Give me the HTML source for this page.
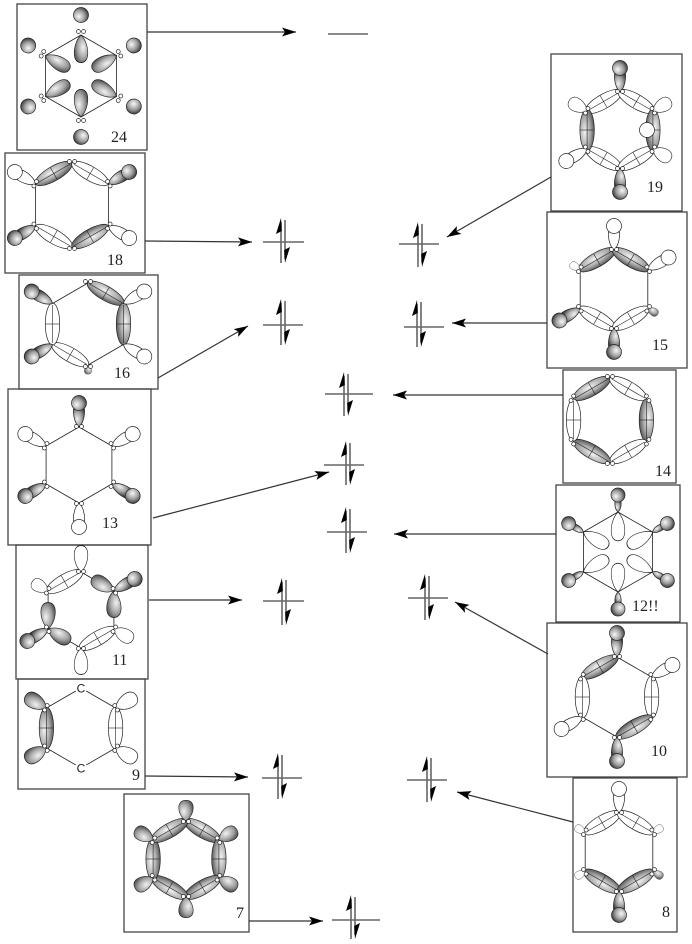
<!DOCTYPE html>
<html><head><meta charset="utf-8">
<style>
html,body{margin:0;padding:0;background:#fff;}
svg{display:block;}
</style></head>
<body>
<svg width="692" height="944" viewBox="0 0 692 944" xmlns="http://www.w3.org/2000/svg">
<style>
.g{fill:url(#gg);stroke:#222;stroke-width:.7}
.w{fill:#fff;stroke:#222;stroke-width:.7}
.s{fill:url(#sg);stroke:#222;stroke-width:.7}
.t{stroke:#222;stroke-width:.6;fill:none}
.hx{fill:none;stroke:#222;stroke-width:.8}
.bx{fill:none;stroke:#444;stroke-width:1.3}
.c{stroke:#333;stroke-width:1.2;fill:none;marker-end:url(#ah)}
.lv{stroke:#666;stroke-width:1.6}
.lbl{font-family:"Liberation Serif",serif;font-size:16px;fill:#222}
.cl{font-family:"Liberation Sans",sans-serif;font-size:12px;fill:#222}
</style>
<defs>
<radialGradient id="gg" cx="0.45" cy="0.35" r="0.75">
<stop offset="0" stop-color="#f2f2f2"/><stop offset="0.5" stop-color="#a8a8a8"/><stop offset="1" stop-color="#3c3c3c"/>
</radialGradient>
<radialGradient id="sg" cx="0.4" cy="0.35" r="0.7">
<stop offset="0" stop-color="#f8f8f8"/><stop offset="0.55" stop-color="#a0a0a0"/><stop offset="1" stop-color="#333"/>
</radialGradient>
<marker id="ah" viewBox="-15 -5 16 10" refX="0" refY="0" markerWidth="16" markerHeight="10" markerUnits="userSpaceOnUse" orient="auto">
<path d="M0,0 L-14,-4.5 L-11,0 L-14,4.5 Z" fill="#000"/>
</marker>
<path id="lob" d="M0,0 C3,-4.5 9,-8 15,-8 C21,-8 23,-4 23,0 C23,4 21,8 15,8 C9,8 3,4.5 0,0Z"/>
<g id="hg"><path d="M0,0 C3,-3.5 10,-6 18,-5.5 L18,5.5 C10,6 3,3.5 0,0Z" class="g"/><circle cx="24" cy="0" r="7.5" class="s"/></g>
<g id="hw"><path d="M0,0 C3,-3.5 10,-6 18,-5.5 L18,5.5 C10,6 3,3.5 0,0Z" class="w"/><circle cx="24" cy="0" r="7.5" class="w"/></g>
<g id="eg"><ellipse cx="0" cy="0" rx="21" ry="7.2" class="g"/><line x1="-19" y1="0" x2="19" y2="0" class="t"/><line x1="0" y1="-6.8" x2="0" y2="6.8" class="t"/></g>
<g id="ew"><ellipse cx="0" cy="0" rx="21" ry="7.2" class="w"/><line x1="-19" y1="0" x2="19" y2="0" class="t"/><line x1="0" y1="-6.8" x2="0" y2="6.8" class="t"/></g>
<g id="at"><circle cx="1.5" cy="-2.6" r="2" class="w"/><circle cx="1.5" cy="2.6" r="2" class="w"/></g>
<g id="ns"><path d="M0,0 C2,-2.5 6,-3.5 11,-3 L11,3 C6,3.5 2,2.5 0,0Z" class="g"/><circle cx="17" cy="0" r="7" class="s"/></g>
<circle id="sph" cx="0" cy="0" r="7.5" class="s"/>
</defs>

<!-- ============ BOXES ============ -->
<rect class="bx" x="17" y="4" width="130" height="146"/>
<rect class="bx" x="5" y="153" width="140" height="120"/>
<rect class="bx" x="19" y="275" width="139" height="114"/>
<rect class="bx" x="8" y="389" width="143" height="156"/>
<rect class="bx" x="16" y="545" width="132" height="134"/>
<rect class="bx" x="18" y="679" width="127" height="110"/>
<rect class="bx" x="124" y="794" width="125" height="138"/>
<rect class="bx" x="551" y="54" width="131" height="157"/>
<rect class="bx" x="547" y="212" width="140" height="156"/>
<rect class="bx" x="563" y="370" width="113" height="113"/>
<rect class="bx" x="556" y="485" width="124" height="137"/>
<rect class="bx" x="547" y="623" width="140" height="154"/>
<rect class="bx" x="573" y="778" width="104" height="154"/>

<!-- Box 24 -->
<g transform="translate(81,76)">
<polygon class="hx" points="0,-41 35.5,-20.5 35.5,20.5 0,41 -35.5,20.5 -35.5,-20.5"/>
<use href="#lob" class="g" transform="rotate(-90) translate(41,0) rotate(180) scale(1.2,0.85)"/>
<use href="#lob" class="g" transform="rotate(-30) translate(41,0) rotate(180) scale(1.2,0.85)"/>
<use href="#lob" class="g" transform="rotate(30) translate(41,0) rotate(180) scale(1.2,0.85)"/>
<use href="#lob" class="g" transform="rotate(90) translate(41,0) rotate(180) scale(1.2,0.85)"/>
<use href="#lob" class="g" transform="rotate(150) translate(41,0) rotate(180) scale(1.2,0.85)"/>
<use href="#lob" class="g" transform="rotate(210) translate(41,0) rotate(180) scale(1.2,0.85)"/>
<use href="#at" transform="rotate(-90) translate(43,0)"/>
<use href="#at" transform="rotate(-30) translate(43,0)"/>
<use href="#at" transform="rotate(30) translate(43,0)"/>
<use href="#at" transform="rotate(90) translate(43,0)"/>
<use href="#at" transform="rotate(150) translate(43,0)"/>
<use href="#at" transform="rotate(210) translate(43,0)"/>
<use href="#sph" transform="rotate(-90) translate(61,0)"/>
<use href="#sph" transform="rotate(-30) translate(61,0)"/>
<use href="#sph" transform="rotate(30) translate(61,0)"/>
<use href="#sph" transform="rotate(90) translate(61,0)"/>
<use href="#sph" transform="rotate(150) translate(61,0)"/>
<use href="#sph" transform="rotate(210) translate(61,0)"/>
</g>
<text class="lbl" x="111" y="142">24</text>

<!-- Box 18 -->
<g transform="translate(72,205)">
<polygon class="hx" points="0,-42 36.4,-21 36.4,21 0,42 -36.4,21 -36.4,-21"/>
<use href="#eg" transform="rotate(240) translate(36.4,0) rotate(90)"/>
<use href="#ew" transform="rotate(-60) translate(36.4,0) rotate(90)"/>
<use href="#ew" transform="rotate(120) translate(36.4,0) rotate(90)"/>
<use href="#eg" transform="rotate(60) translate(36.4,0) rotate(90)"/>
<use href="#hw" transform="rotate(210) translate(42,0)"/>
<use href="#hg" transform="rotate(-30) translate(42,0)"/>
<use href="#hg" transform="rotate(150) translate(42,0)"/>
<use href="#hw" transform="rotate(30) translate(42,0)"/>
<use href="#at" transform="rotate(-90) translate(42,0)"/>
<use href="#at" transform="rotate(90) translate(42,0)"/>
<use href="#at" transform="rotate(-30) translate(41,0)"/>
<use href="#at" transform="rotate(30) translate(41,0)"/>
<use href="#at" transform="rotate(150) translate(41,0)"/>
<use href="#at" transform="rotate(210) translate(41,0)"/>
</g>
<text class="lbl" x="107" y="265">18</text>

<!-- Box 16 -->
<g transform="translate(88,324)">
<polygon class="hx" points="0,-41 35.5,-20.5 35.5,20.5 0,41 -35.5,20.5 -35.5,-20.5"/>
<use href="#eg" transform="rotate(-60) translate(35.5,0) rotate(90)"/>
<use href="#eg" transform="rotate(0) translate(35.5,0) rotate(90)"/>
<use href="#ew" transform="rotate(120) translate(35.5,0) rotate(90)"/>
<use href="#ew" transform="rotate(180) translate(35.5,0) rotate(90)"/>
<use href="#hg" transform="rotate(210) translate(41,0)"/>
<use href="#hw" transform="rotate(-30) translate(41,0)"/>
<use href="#hg" transform="rotate(150) translate(41,0)"/>
<use href="#hw" transform="rotate(30) translate(41,0)"/>
<use href="#at" transform="rotate(-90) translate(41,0)"/>
<use href="#lob" class="g" transform="rotate(90) translate(41,0) scale(0.4,0.45)"/>
<use href="#at" transform="rotate(90) translate(41,0)"/>
</g>
<text class="lbl" x="114" y="378">16</text>

<!-- Box 13 -->
<g transform="translate(79,465)">
<polygon class="hx" points="0,-38 32.9,-19 32.9,19 0,38 -32.9,19 -32.9,-19"/>
<use href="#hg" transform="rotate(-90) translate(38,0)"/>
<use href="#hw" transform="rotate(-30) translate(38,0)"/>
<use href="#hg" transform="rotate(30) translate(38,0)"/>
<use href="#hw" transform="rotate(90) translate(38,0)"/>
<use href="#hg" transform="rotate(150) translate(38,0)"/>
<use href="#hw" transform="rotate(210) translate(38,0)"/>
<use href="#at" transform="rotate(-90) translate(37,0)"/>
<use href="#at" transform="rotate(-30) translate(37,0)"/>
<use href="#at" transform="rotate(30) translate(37,0)"/>
<use href="#at" transform="rotate(90) translate(37,0)"/>
<use href="#at" transform="rotate(150) translate(37,0)"/>
<use href="#at" transform="rotate(210) translate(37,0)"/>
</g>
<text class="lbl" x="102" y="528">13</text>

<!-- Box 11 -->
<g transform="translate(81,610)">
<polygon class="hx" points="0,-38 32.9,-19 32.9,19 0,38 -32.9,19 -32.9,-19"/>
<use href="#ew" transform="rotate(240) translate(32.9,0) rotate(90)"/>
<use href="#ew" transform="rotate(60) translate(32.9,0) rotate(90)"/>
<use href="#lob" class="w" transform="rotate(-90) translate(38,0) scale(1.15,0.85)"/>
<use href="#lob" class="w" transform="rotate(210) translate(38,0) scale(0.8,0.8)"/>
<use href="#lob" class="w" transform="rotate(30) translate(38,0) scale(0.95,0.85)"/>
<use href="#lob" class="w" transform="rotate(90) translate(38,0) scale(1.15,0.85)"/>
<use href="#lob" class="g" transform="translate(32.9,-19) rotate(90) scale(1.15,0.9)"/>
<use href="#lob" class="g" transform="translate(32.9,-19) rotate(210) scale(1.1,0.9)"/>
<use href="#hg" transform="rotate(-30) translate(38,0)"/>
<use href="#lob" class="g" transform="translate(-32.9,19) rotate(-90) scale(1.15,0.9)"/>
<use href="#lob" class="g" transform="translate(-32.9,19) rotate(30) scale(1.1,0.9)"/>
<use href="#hg" transform="rotate(150) translate(38,0)"/>
<use href="#at" transform="rotate(-90) translate(37,0)"/>
<use href="#at" transform="rotate(-30) translate(37,0)"/>
<use href="#at" transform="rotate(30) translate(37,0)"/>
<use href="#at" transform="rotate(90) translate(37,0)"/>
<use href="#at" transform="rotate(150) translate(37,0)"/>
<use href="#at" transform="rotate(210) translate(37,0)"/>
</g>
<text class="lbl" x="112" y="665">11</text>

<!-- Box 9 -->
<g transform="translate(81,728)">
<polygon class="hx" points="0,-40 34.6,-20 34.6,20 0,40 -34.6,20 -34.6,-20"/>
<use href="#eg" transform="rotate(180) translate(34.6,0) rotate(90)"/>
<use href="#ew" transform="rotate(0) translate(34.6,0) rotate(90)"/>
<use href="#lob" class="g" transform="rotate(210) translate(40,0) scale(1.05,0.95)"/>
<use href="#lob" class="g" transform="rotate(150) translate(40,0) scale(1.05,0.95)"/>
<use href="#lob" class="w" transform="rotate(-30) translate(40,0) scale(1.05,0.95)"/>
<use href="#lob" class="w" transform="rotate(30) translate(40,0) scale(1.05,0.95)"/>
<use href="#at" transform="rotate(-30) translate(39,0)"/>
<use href="#at" transform="rotate(30) translate(39,0)"/>
<use href="#at" transform="rotate(150) translate(39,0)"/>
<use href="#at" transform="rotate(210) translate(39,0)"/>
<circle cx="0" cy="-40" r="6" fill="#fff"/>
<circle cx="0" cy="40" r="6" fill="#fff"/>
<text class="cl" x="0" y="-35.5" text-anchor="middle">C</text>
<text class="cl" x="0" y="44.5" text-anchor="middle">C</text>
</g>
<text class="lbl" x="132" y="780">9</text>

<!-- Box 7 -->
<g transform="translate(186,859)">
<polygon class="hx" points="0,-38 32.9,-19 32.9,19 0,38 -32.9,19 -32.9,-19"/>
<use href="#eg" transform="rotate(-60) translate(32.9,0) rotate(90)"/>
<use href="#eg" transform="rotate(0) translate(32.9,0) rotate(90)"/>
<use href="#eg" transform="rotate(60) translate(32.9,0) rotate(90)"/>
<use href="#eg" transform="rotate(120) translate(32.9,0) rotate(90)"/>
<use href="#eg" transform="rotate(180) translate(32.9,0) rotate(90)"/>
<use href="#eg" transform="rotate(240) translate(32.9,0) rotate(90)"/>
<use href="#lob" class="g" transform="rotate(-90) translate(38,0) scale(0.9,0.9)"/>
<use href="#lob" class="g" transform="rotate(-30) translate(38,0) scale(0.9,0.9)"/>
<use href="#lob" class="g" transform="rotate(30) translate(38,0) scale(0.9,0.9)"/>
<use href="#lob" class="g" transform="rotate(90) translate(38,0) scale(0.9,0.9)"/>
<use href="#lob" class="g" transform="rotate(150) translate(38,0) scale(0.9,0.9)"/>
<use href="#lob" class="g" transform="rotate(210) translate(38,0) scale(0.9,0.9)"/>
<use href="#at" transform="rotate(-90) translate(36,0)"/>
<use href="#at" transform="rotate(-30) translate(36,0)"/>
<use href="#at" transform="rotate(30) translate(36,0)"/>
<use href="#at" transform="rotate(90) translate(36,0)"/>
<use href="#at" transform="rotate(150) translate(36,0)"/>
<use href="#at" transform="rotate(210) translate(36,0)"/>
</g>
<text class="lbl" x="236" y="918">7</text>

<!-- Box 19 -->
<g transform="translate(620,130)">
<polygon class="hx" points="0,-38 32.9,-19 32.9,19 0,38 -32.9,19 -32.9,-19"/>
<use href="#ew" transform="rotate(240) translate(32.9,0) rotate(90)"/>
<use href="#ew" transform="rotate(-60) translate(32.9,0) rotate(90)"/>
<use href="#ew" transform="rotate(120) translate(32.9,0) rotate(90)"/>
<use href="#ew" transform="rotate(60) translate(32.9,0) rotate(90)"/>
<use href="#eg" transform="rotate(180) translate(32.9,0) rotate(90)"/>
<use href="#eg" transform="rotate(0) translate(32.9,0) rotate(90)"/>
<use href="#hg" transform="rotate(-90) translate(38,0)"/>
<use href="#hg" transform="rotate(90) translate(38,0)"/>
<use href="#lob" class="w" transform="rotate(210) translate(38,0) scale(0.9,0.85)"/>
<use href="#lob" class="w" transform="rotate(-30) translate(38,0) scale(0.9,0.85)"/>
<use href="#lob" class="w" transform="rotate(30) translate(38,0) scale(0.9,0.85)"/>
<use href="#hw" transform="rotate(150) translate(38,0)"/>
<circle cx="27" cy="0" r="7.5" class="w"/>
<use href="#at" transform="rotate(-90) translate(37,0)"/>
<use href="#at" transform="rotate(-30) translate(37,0)"/>
<use href="#at" transform="rotate(30) translate(37,0)"/>
<use href="#at" transform="rotate(90) translate(37,0)"/>
<use href="#at" transform="rotate(150) translate(37,0)"/>
<use href="#at" transform="rotate(210) translate(37,0)"/>
</g>
<text class="lbl" x="647" y="192">19</text>

<!-- Box 15 -->
<g transform="translate(614,289)">
<polygon class="hx" points="0,-39 33.8,-19.5 33.8,19.5 0,39 -33.8,19.5 -33.8,-19.5"/>
<use href="#eg" transform="rotate(240) translate(33.8,0) rotate(90)"/>
<use href="#eg" transform="rotate(-60) translate(33.8,0) rotate(90)"/>
<use href="#ew" transform="rotate(120) translate(33.8,0) rotate(90)"/>
<use href="#ew" transform="rotate(60) translate(33.8,0) rotate(90)"/>
<use href="#hw" transform="rotate(-90) translate(39,0)"/>
<use href="#hw" transform="rotate(-30) translate(39,0)"/>
<use href="#hg" transform="rotate(150) translate(39,0)"/>
<use href="#hg" transform="rotate(90) translate(39,0)"/>
<use href="#lob" class="w" transform="rotate(210) translate(39,0) scale(0.5,0.5)"/>
<use href="#lob" class="g" transform="rotate(30) translate(39,0) scale(0.5,0.5)"/>
<use href="#at" transform="rotate(-90) translate(38,0)"/>
<use href="#at" transform="rotate(-30) translate(38,0)"/>
<use href="#at" transform="rotate(30) translate(38,0)"/>
<use href="#at" transform="rotate(90) translate(38,0)"/>
<use href="#at" transform="rotate(150) translate(38,0)"/>
<use href="#at" transform="rotate(210) translate(38,0)"/>
</g>
<text class="lbl" x="652" y="350">15</text>

<!-- Box 14 -->
<g transform="translate(610,420)">
<polygon class="hx" points="0,-42 36.4,-21 36.4,21 0,42 -36.4,21 -36.4,-21"/>
<use href="#eg" transform="rotate(240) translate(36.4,0) rotate(90)"/>
<use href="#ew" transform="rotate(-60) translate(36.4,0) rotate(90)"/>
<use href="#eg" transform="rotate(0) translate(36.4,0) rotate(90)"/>
<use href="#ew" transform="rotate(60) translate(36.4,0) rotate(90)"/>
<use href="#eg" transform="rotate(120) translate(36.4,0) rotate(90)"/>
<use href="#ew" transform="rotate(180) translate(36.4,0) rotate(90)"/>
<use href="#at" transform="rotate(-90) translate(42,0)"/>
<use href="#at" transform="rotate(-30) translate(42,0)"/>
<use href="#at" transform="rotate(30) translate(42,0)"/>
<use href="#at" transform="rotate(90) translate(42,0)"/>
<use href="#at" transform="rotate(150) translate(42,0)"/>
<use href="#at" transform="rotate(210) translate(42,0)"/>
</g>
<text class="lbl" x="655" y="476">14</text>

<!-- Box 12!! -->
<g transform="translate(618,552)">
<polygon class="hx" points="0,-40 34.6,-20 34.6,20 0,40 -34.6,20 -34.6,-20"/>
<use href="#lob" class="w" transform="rotate(-90) translate(40,0) rotate(180) scale(1.25,0.85)"/>
<use href="#lob" class="w" transform="rotate(-30) translate(40,0) rotate(180) scale(1.25,0.85)"/>
<use href="#lob" class="w" transform="rotate(30) translate(40,0) rotate(180) scale(1.25,0.85)"/>
<use href="#lob" class="w" transform="rotate(90) translate(40,0) rotate(180) scale(1.25,0.85)"/>
<use href="#lob" class="w" transform="rotate(150) translate(40,0) rotate(180) scale(1.25,0.85)"/>
<use href="#lob" class="w" transform="rotate(210) translate(40,0) rotate(180) scale(1.25,0.85)"/>
<use href="#ns" transform="rotate(-90) translate(40,0)"/>
<use href="#ns" transform="rotate(-30) translate(40,0)"/>
<use href="#ns" transform="rotate(30) translate(40,0)"/>
<use href="#ns" transform="rotate(90) translate(40,0)"/>
<use href="#ns" transform="rotate(150) translate(40,0)"/>
<use href="#ns" transform="rotate(210) translate(40,0)"/>
</g>
<text class="lbl" x="632" y="611">12!!</text>

<!-- Box 10 -->
<g transform="translate(617,697)">
<polygon class="hx" points="0,-40 34.6,-20 34.6,20 0,40 -34.6,20 -34.6,-20"/>
<use href="#eg" transform="rotate(240) translate(34.6,0) rotate(90)"/>
<use href="#ew" transform="rotate(0) translate(34.6,0) rotate(90)"/>
<use href="#ew" transform="rotate(180) translate(34.6,0) rotate(90)"/>
<use href="#eg" transform="rotate(60) translate(34.6,0) rotate(90)"/>
<use href="#hg" transform="rotate(-90) translate(40,0)"/>
<use href="#hg" transform="rotate(90) translate(40,0)"/>
<use href="#hw" transform="rotate(-30) translate(40,0)"/>
<use href="#hw" transform="rotate(150) translate(40,0)"/>
<use href="#at" transform="rotate(-90) translate(39,0)"/>
<use href="#at" transform="rotate(-30) translate(39,0)"/>
<use href="#at" transform="rotate(30) translate(39,0)"/>
<use href="#at" transform="rotate(90) translate(39,0)"/>
<use href="#at" transform="rotate(150) translate(39,0)"/>
<use href="#at" transform="rotate(210) translate(39,0)"/>
</g>
<text class="lbl" x="651" y="756">10</text>

<!-- Box 8 -->
<g transform="translate(619,852)">
<polygon class="hx" points="0,-39 33.8,-19.5 33.8,19.5 0,39 -33.8,19.5 -33.8,-19.5"/>
<use href="#ew" transform="rotate(240) translate(33.8,0) rotate(90)"/>
<use href="#ew" transform="rotate(-60) translate(33.8,0) rotate(90)"/>
<use href="#eg" transform="rotate(120) translate(33.8,0) rotate(90)"/>
<use href="#eg" transform="rotate(60) translate(33.8,0) rotate(90)"/>
<use href="#hw" transform="rotate(-90) translate(39,0)"/>
<use href="#hg" transform="rotate(90) translate(39,0)"/>
<use href="#lob" class="w" transform="rotate(-30) translate(39,0) scale(0.5,0.5)"/>
<use href="#lob" class="w" transform="rotate(210) translate(39,0) scale(0.5,0.5)"/>
<use href="#lob" class="w" transform="rotate(150) translate(39,0) scale(0.5,0.5)"/>
<use href="#lob" class="g" transform="rotate(30) translate(39,0) scale(0.5,0.5)"/>
<use href="#at" transform="rotate(-90) translate(38,0)"/>
<use href="#at" transform="rotate(-30) translate(38,0)"/>
<use href="#at" transform="rotate(30) translate(38,0)"/>
<use href="#at" transform="rotate(90) translate(38,0)"/>
<use href="#at" transform="rotate(150) translate(38,0)"/>
<use href="#at" transform="rotate(210) translate(38,0)"/>
</g>
<text class="lbl" x="662" y="917">8</text>

<!-- ============ CONNECTORS ============ -->
<line class="c" x1="147" y1="32" x2="296" y2="32"/>
<line class="c" x1="145" y1="241" x2="252" y2="242"/>
<line class="c" x1="551" y1="177" x2="447" y2="237"/>
<line class="c" x1="158" y1="378" x2="248" y2="326"/>
<line class="c" x1="547" y1="323" x2="452" y2="323"/>
<line class="c" x1="563" y1="395" x2="393" y2="395"/>
<line class="c" x1="153" y1="518" x2="329" y2="472"/>
<line class="c" x1="556" y1="534" x2="394" y2="534"/>
<line class="c" x1="149" y1="600" x2="242" y2="600"/>
<line class="c" x1="548" y1="654" x2="455" y2="602"/>
<line class="c" x1="145" y1="776" x2="248" y2="777"/>
<line class="c" x1="573" y1="822" x2="457" y2="792"/>
<line class="c" x1="249" y1="921" x2="323" y2="921"/>

<!-- ============ ENERGY LEVELS ============ -->
<g fill="#000">
<line class="lv" x1="328" y1="34" x2="368" y2="34"/>

<line class="lv" x1="263" y1="242" x2="304" y2="242"/>
<line class="lv" x1="281" y1="222" x2="281" y2="263"/><path d="M281,218 L276,234 L281.8,231 Z"/>
<line class="lv" x1="285" y1="220" x2="285" y2="259"/><path d="M285,263 L290,247 L284.2,250 Z"/>

<line class="lv" x1="399" y1="244" x2="439" y2="244"/>
<line class="lv" x1="418" y1="226" x2="418" y2="267"/><path d="M418,222 L413,238 L418.8,235 Z"/>
<line class="lv" x1="422" y1="224" x2="422" y2="263"/><path d="M422,267 L427,251 L421.2,254 Z"/>

<line class="lv" x1="263" y1="325" x2="303" y2="325"/>
<line class="lv" x1="281" y1="303" x2="281" y2="345"/><path d="M281,299 L276,315 L281.8,312 Z"/>
<line class="lv" x1="285" y1="301" x2="285" y2="341"/><path d="M285,345 L290,329 L284.2,332 Z"/>

<line class="lv" x1="404" y1="327" x2="444" y2="327"/>
<line class="lv" x1="417" y1="304" x2="417" y2="347"/><path d="M417,300 L412,316 L417.8,313 Z"/>
<line class="lv" x1="421" y1="302" x2="421" y2="343"/><path d="M421,347 L426,331 L420.2,334 Z"/>

<line class="lv" x1="325" y1="394" x2="373" y2="394"/>
<line class="lv" x1="344" y1="376" x2="344" y2="416"/><path d="M344,372 L339,388 L344.8,385 Z"/>
<line class="lv" x1="348" y1="374" x2="348" y2="412"/><path d="M348,416 L353,400 L347.2,403 Z"/>

<line class="lv" x1="324" y1="465" x2="364" y2="465"/>
<line class="lv" x1="346" y1="445" x2="346" y2="485"/><path d="M346,441 L341,457 L346.8,454 Z"/>
<line class="lv" x1="350" y1="443" x2="350" y2="481"/><path d="M350,485 L355,469 L349.2,472 Z"/>

<line class="lv" x1="327" y1="532" x2="367" y2="532"/>
<line class="lv" x1="346" y1="511" x2="346" y2="553"/><path d="M346,507 L341,523 L346.8,520 Z"/>
<line class="lv" x1="350" y1="509" x2="350" y2="549"/><path d="M350,553 L355,537 L349.2,540 Z"/>

<line class="lv" x1="263" y1="601" x2="304" y2="601"/>
<line class="lv" x1="282" y1="582" x2="282" y2="625"/><path d="M282,578 L277,594 L282.8,591 Z"/>
<line class="lv" x1="286" y1="580" x2="286" y2="621"/><path d="M286,625 L291,609 L285.2,612 Z"/>

<line class="lv" x1="408" y1="598" x2="448" y2="598"/>
<line class="lv" x1="425" y1="578" x2="425" y2="620"/><path d="M425,574 L420,590 L425.8,587 Z"/>
<line class="lv" x1="429" y1="576" x2="429" y2="616"/><path d="M429,620 L434,604 L428.2,607 Z"/>

<line class="lv" x1="262" y1="778" x2="302" y2="778"/>
<line class="lv" x1="278" y1="757" x2="278" y2="799"/><path d="M278,753 L273,769 L278.8,766 Z"/>
<line class="lv" x1="282" y1="755" x2="282" y2="795"/><path d="M282,799 L287,783 L281.2,786 Z"/>

<line class="lv" x1="407" y1="780" x2="447" y2="780"/>
<line class="lv" x1="427" y1="760" x2="427" y2="802"/><path d="M427,756 L422,772 L427.8,769 Z"/>
<line class="lv" x1="431" y1="758" x2="431" y2="798"/><path d="M431,802 L436,786 L430.2,789 Z"/>

<line class="lv" x1="332" y1="920" x2="380" y2="920"/>
<line class="lv" x1="351" y1="899" x2="351" y2="939"/><path d="M351,895 L346,911 L351.8,908 Z"/>
<line class="lv" x1="355" y1="897" x2="355" y2="935"/><path d="M355,939 L360,923 L354.2,926 Z"/>
</g>
</svg>
</body></html>
